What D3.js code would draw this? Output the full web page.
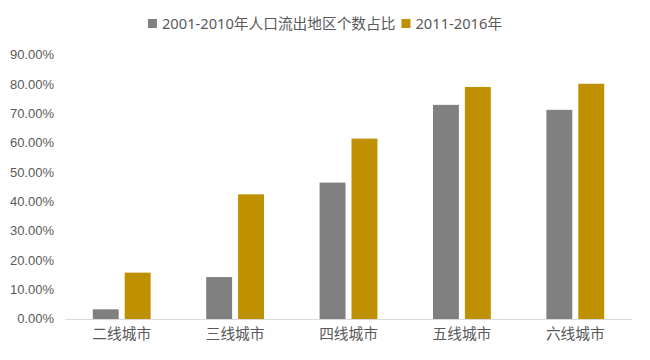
<!DOCTYPE html>
<html>
<head>
<meta charset="utf-8">
<script src="https://cdn.jsdelivr.net/npm/d3@7"></script>
<style>
  body { margin: 0; background: #fff; }
  svg text { fill: #595959; }
</style>
</head>
<body>
<div id="chart"></div>
<script>
// categories and series
const cities = ["二线城市", "三线城市", "四线城市", "五线城市", "六线城市"];
const seriesNames = ["2001-2010年人口流出地区个数占比", "2011-2016年"];
const s2001 = [0.033, 0.143, 0.465, 0.73, 0.713];
const s2011 = [0.158, 0.425, 0.615, 0.791, 0.802];
const yTicks = [0, 0.1, 0.2, 0.3, 0.4, 0.5, 0.6, 0.7, 0.8, 0.9];
const colors = ["#808080", "#BF9000"];

const width = 650, height = 360;
const margin = { left: 65, right: 18, top: 55, bottom: 41 };

const svg = d3.select("#chart").append("svg")
  .attr("width", width).attr("height", height);

//scales
const x0 = d3.scaleBand().domain(cities)
  .range([margin.left, width - margin.right])
  .paddingInner(0.49).paddingOuter(0.245);
const x1 = d3.scaleBand().domain(seriesNames)
  .range([0, x0.bandwidth()]).paddingInner(0.1875);
const y = d3.scaleLinear().domain([0, 0.9])
  .range([height - margin.bottom, margin.top]);

//y axis labels (no line)
const yAxis = d3.axisLeft(y).tickValues(yTicks)
  .tickFormat(d => (d * 100).toFixed(2) + "%").tickSize(0).tickPadding(11);
svg.append("g").attr("transform", `translate(${margin.left},0)`).call(yAxis)
  .call(g => g.select(".domain").remove())
  .selectAll("text")
  .style("font-family", "'Liberation Sans', Arial, sans-serif")
  .style("font-size", "13px").attr("dy", "0.3em");

//bars
const rows = cities.map((c, i) => ({ city: c, vals: [s2001[i], s2011[i]] }));
const groups = svg.selectAll("g.grp").data(rows).enter().append("g")
  .attr("class", "grp")
  .attr("transform", d => `translate(${x0(d.city)},0)`);
groups.selectAll("rect").data(d => d.vals.map((v, k) => ({ k, v }))).enter().append("rect")
  .attr("x", d => x1(seriesNames[d.k]))
  .attr("width", x1.bandwidth())
  .attr("y", d => y(d.v))
  .attr("height", d => y(0) - y(d.v))
  .attr("fill", d => colors[d.k]);

//x axis
const xAxis = d3.axisBottom(x0).tickSize(0).tickPadding(10);
svg.append("g").attr("transform", `translate(0,${y(0)})`).call(xAxis)
  .call(g => g.select(".domain").attr("stroke", "#d9d9d9").attr("stroke-width", 1))
  .selectAll("text")
  .style("font-family", "'Noto Sans CJK SC', sans-serif")
  .style("font-size", "14.7px");

//legend
const legend = svg.append("g");
const items = [];
seriesNames.forEach((n, i) => {
  const g = legend.append("g");
  g.append("rect").attr("width", 9).attr("height", 9).attr("y", 19).attr("fill", colors[i]);
  const t = g.append("text").attr("x", 14).attr("y", 23.5).attr("dy", "0.35em")
    .style("font-family", "'Noto Sans', 'Noto Sans CJK SC', sans-serif")
    .style("font-size", "14.7px").text(n);
  items.push({ g, w: 14 + t.node().getComputedTextLength() });
});
const gap = 6;
const total = items.reduce((a, b) => a + b.w, 0) + gap;
let lx = 325 - total / 2;
items.forEach(it => {
  it.g.attr("transform", `translate(${lx},0)`);
  lx += it.w + gap;
});
</script>
</body>
</html>
